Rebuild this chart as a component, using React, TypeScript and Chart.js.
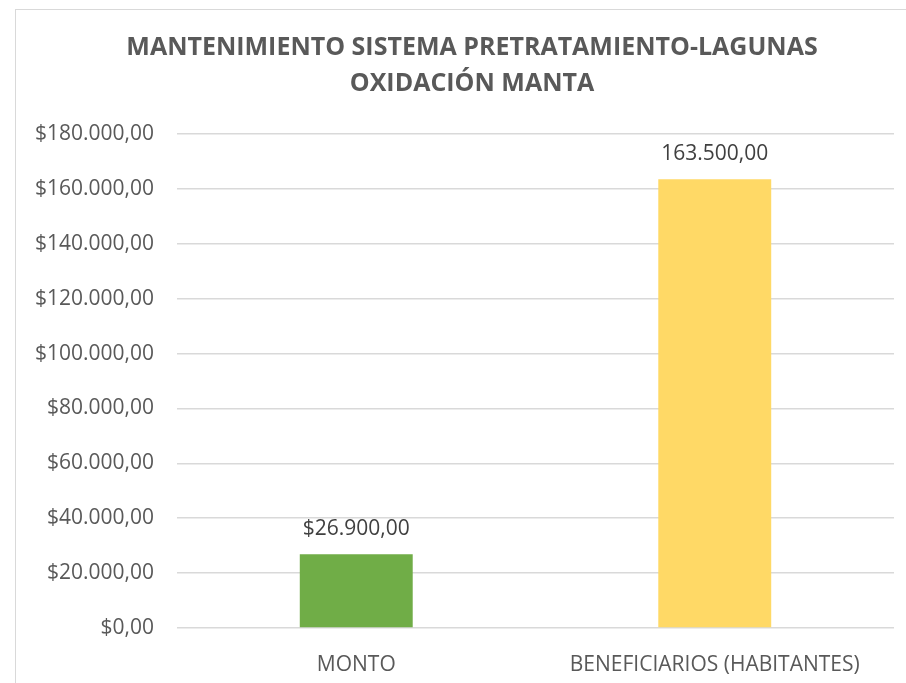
import React, { useEffect, useRef } from "react";
import { Chart, registerables } from "chart.js";

Chart.register(...registerables);

const titleLines = ["MANTENIMIENTO SISTEMA PRETRATAMIENTO-LAGUNAS", "OXIDACIÓN MANTA"];
const categories = ["MONTO", "BENEFICIARIOS (HABITANTES)"];
const values = [26900, 163500];
const barColors = ["#70AD47", "#FFD966"];
const labelPrefixes = ["$", ""];
const yMin = 0;
const yMax = 180000;
const yStep = 20000;

function fmt(v: number): string {
  const fixed = Math.abs(v).toFixed(2);
  const [intPart, dec] = fixed.split(".");
  const withDots = intPart.replace(/\B(?=(\d{3})+(?!\d))/g, ".");
  return (v < 0 ? "-" : "") + withDots + "," + dec;
}

const FONT = "'Open Sans', 'Noto Sans', sans-serif";

const dataLabelPlugin = {
  id: "dataLabelPlugin",
  afterDatasetsDraw(chart: any) {
    const ctx = chart.ctx;
    const meta = chart.getDatasetMeta(0);
    ctx.save();
    ctx.font = `21px ${FONT}`;
    ctx.fillStyle = "#404040";
    ctx.textAlign = "center";
    ctx.textBaseline = "middle";
    meta.data.forEach((bar: any, i: number) => {
      const text = labelPrefixes[i] + fmt(values[i]);
      ctx.fillText(text, bar.x, bar.y - 25);
    });
    ctx.restore();
  },
};

// The chart frame extends beyond the visible area, so its title centre sits right of the plot's centre.
const titleShiftPlugin = {
  id: "titleShiftPlugin",
  afterLayout(chart: any) {
    const tb = chart.titleBlock;
    if (tb) {
      tb.left += 17.5;
      tb.right += 17.5;
    }
  },
};

export default function App() {
  const canvasRef = useRef<HTMLCanvasElement | null>(null);

  useEffect(() => {
    if (!canvasRef.current) return;
    const chart = new Chart(canvasRef.current, {
      type: "bar",
      data: {
        labels: categories,
        datasets: [
          {
            data: values,
            backgroundColor: barColors,
            borderWidth: 0,
            barPercentage: 0.315,
            categoryPercentage: 1,
          },
        ],
      },
      options: {
        responsive: false,
        animation: false,
        layout: { padding: { left: 0, right: 35, top: 0, bottom: 0 } },
        plugins: {
          legend: { display: false },
          tooltip: { enabled: false },
          title: {
            display: true,
            text: titleLines,
            color: "#595959",
            font: { family: FONT, size: 25, weight: "bold", lineHeight: 1.42 },
            padding: { top: 21.5, bottom: 32.5 },
          },
        },
        scales: {
          x: {
            grid: { display: false },
            border: { display: false },
            ticks: {
              color: "#595959",
              font: { family: FONT, size: 21 },
              padding: 16,
              maxRotation: 0,
              autoSkip: false,
            },
            afterFit(scale: any) {
              scale.height = 81;
            },
          },
          y: {
            min: yMin,
            max: yMax,
            border: { display: false },
            grid: { color: "#d9d9d9", lineWidth: 1.5, drawTicks: false },
            ticks: {
              stepSize: yStep,
              color: "#595959",
              font: { family: FONT, size: 21 },
              padding: 23,
              callback: (v: any) => "$" + fmt(Number(v)),
            },
            afterFit(scale: any) {
              scale.width = 162;
            },
          },
        },
      },
      plugins: [dataLabelPlugin, titleShiftPlugin],
    });
    return () => chart.destroy();
  }, []);

  return (
    <div
      style={{
        position: "fixed",
        left: 0,
        top: 0,
        width: 906,
        height: 683,
        overflow: "hidden",
        background: "#ffffff",
      }}
    >
      <div
        style={{
          position: "absolute",
          left: 15,
          top: 9,
          width: 1000,
          height: 1000,
          boxSizing: "border-box",
          border: "1.5px solid #d9d9d9",
        }}
      />
      <canvas
        ref={canvasRef}
        width={914}
        height={700}
        style={{ position: "absolute", left: 15, top: 9, width: 914, height: 700 }}
      />
    </div>
  );
}
